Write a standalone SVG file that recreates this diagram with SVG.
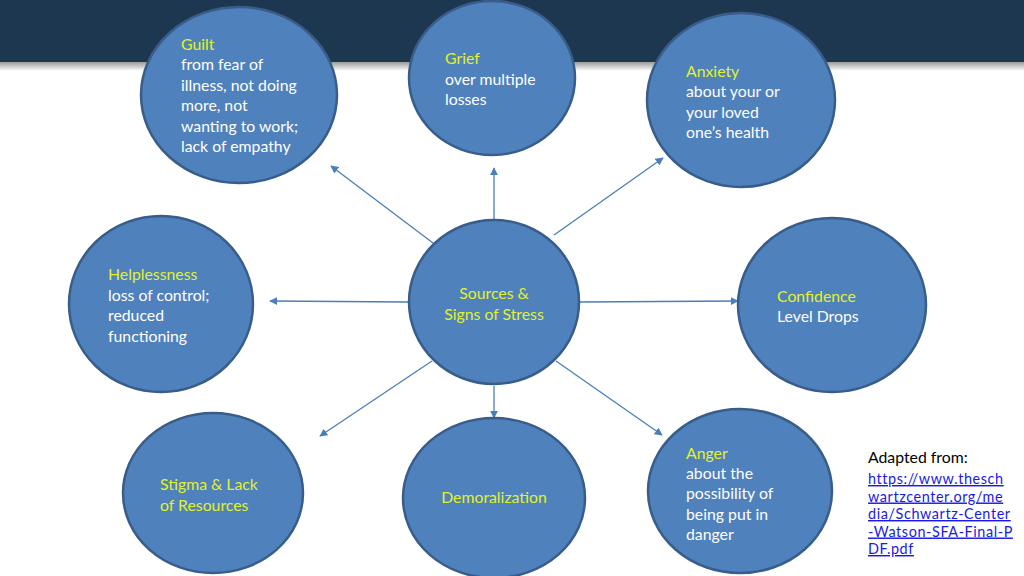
<svg xmlns="http://www.w3.org/2000/svg" width="1024" height="576" viewBox="0 0 1024 576">
<defs>
<linearGradient id="sh" x1="0" y1="0" x2="0" y2="1">
<stop offset="0" stop-color="#9a9a9a"/>
<stop offset="1" stop-color="#ffffff"/>
</linearGradient>
<marker id="ah" viewBox="0 0 10 10" refX="9" refY="5" markerWidth="8" markerHeight="8" markerUnits="userSpaceOnUse" orient="auto">
<path d="M0,0 L10,5 L0,10 z" fill="#4a7ebb"/>
</marker>
</defs>
<style>
.n{fill:#4f81bd;stroke:#385d8a;stroke-width:2.5}
.c line{stroke:#4a7ebb;stroke-width:1.3;marker-end:url(#ah)}
text{font-family:Lato,"Liberation Sans",sans-serif;font-size:15.8px;fill:#ffffff}
.h{fill:#e2f12a}
.m{text-anchor:middle}
.a{fill:#000000}
.l{fill:#1a1ae6;text-decoration:underline;font-size:14.4px;letter-spacing:0.6px}
</style>
<rect x="0" y="0" width="1024" height="576" fill="#ffffff"/>
<rect x="0" y="62" width="1024" height="9" fill="url(#sh)"/>
<rect x="0" y="0" width="1024" height="62" fill="#1e3750"/>
<g class="c">
<line x1="433" y1="243" x2="331" y2="166"/>
<line x1="494" y1="219" x2="494" y2="168"/>
<line x1="554" y1="235" x2="663" y2="158"/>
<line x1="408" y1="302" x2="270" y2="301"/>
<line x1="580" y1="302" x2="738" y2="301"/>
<line x1="432" y1="361" x2="320" y2="436"/>
<line x1="494" y1="386" x2="494" y2="418"/>
<line x1="556" y1="361" x2="662" y2="435"/>
</g>
<g id="guilt">
<ellipse class="n" cx="239" cy="95" rx="98" ry="88"/>
<text x="181" y="50" class="h">Guilt</text>
<text x="181" y="70">from fear of</text>
<text x="181" y="91">illness, not doing</text>
<text x="181" y="111">more, not</text>
<text x="181" y="132">wanting to work;</text>
<text x="181" y="152">lack of empathy</text>
</g>
<g id="grief">
<ellipse class="n" cx="492" cy="78" rx="83" ry="77"/>
<text x="445" y="64" class="h">Grief</text>
<text x="445" y="85">over multiple</text>
<text x="445" y="105">losses</text>
</g>
<g id="anxiety">
<ellipse class="n" cx="741" cy="100" rx="94" ry="87"/>
<text x="686" y="77" class="h">Anxiety</text>
<text x="686" y="97">about your or</text>
<text x="686" y="118">your loved</text>
<text x="686" y="138">one’s health</text>
</g>
<g id="helplessness">
<ellipse class="n" cx="161" cy="304" rx="92" ry="88"/>
<text x="108" y="280" class="h">Helplessness</text>
<text x="108" y="301">loss of control;</text>
<text x="108" y="321">reduced</text>
<text x="108" y="342">functioning</text>
</g>
<g id="center">
<ellipse class="n" cx="494" cy="302" rx="85" ry="82"/>
<text x="494" y="299" class="h m">Sources &amp;</text>
<text x="494" y="320" class="h m">Signs of Stress</text>
</g>
<g id="confidence">
<ellipse class="n" cx="832" cy="305" rx="94" ry="87"/>
<text x="777" y="302" class="h">Confidence</text>
<text x="777" y="322">Level Drops</text>
</g>
<g id="stigma">
<ellipse class="n" cx="213" cy="493" rx="90" ry="80"/>
<text x="160" y="490" class="h">Stigma &amp; Lack</text>
<text x="160" y="511" class="h">of Resources</text>
</g>
<g id="demoralization">
<ellipse class="n" cx="494" cy="498" rx="91" ry="80"/>
<text x="494" y="503" class="h m">Demoralization</text>
</g>
<g id="anger">
<ellipse class="n" cx="740" cy="491" rx="92" ry="82"/>
<text x="686" y="459" class="h">Anger</text>
<text x="686" y="479">about the</text>
<text x="686" y="499">possibility of</text>
<text x="686" y="520">being put in</text>
<text x="686" y="540">danger</text>
</g>
<g id="source">
<text x="868" y="463" class="a">Adapted from:</text>
<text x="868" y="484" class="l">https://www.thesch</text>
<text x="868" y="501.5" class="l">wartzcenter.org/me</text>
<text x="868" y="519" class="l">dia/Schwartz-Center</text>
<text x="868" y="536.5" class="l">-Watson-SFA-Final-P</text>
<text x="868" y="554" class="l">DF.pdf</text>
</g>
</svg>
